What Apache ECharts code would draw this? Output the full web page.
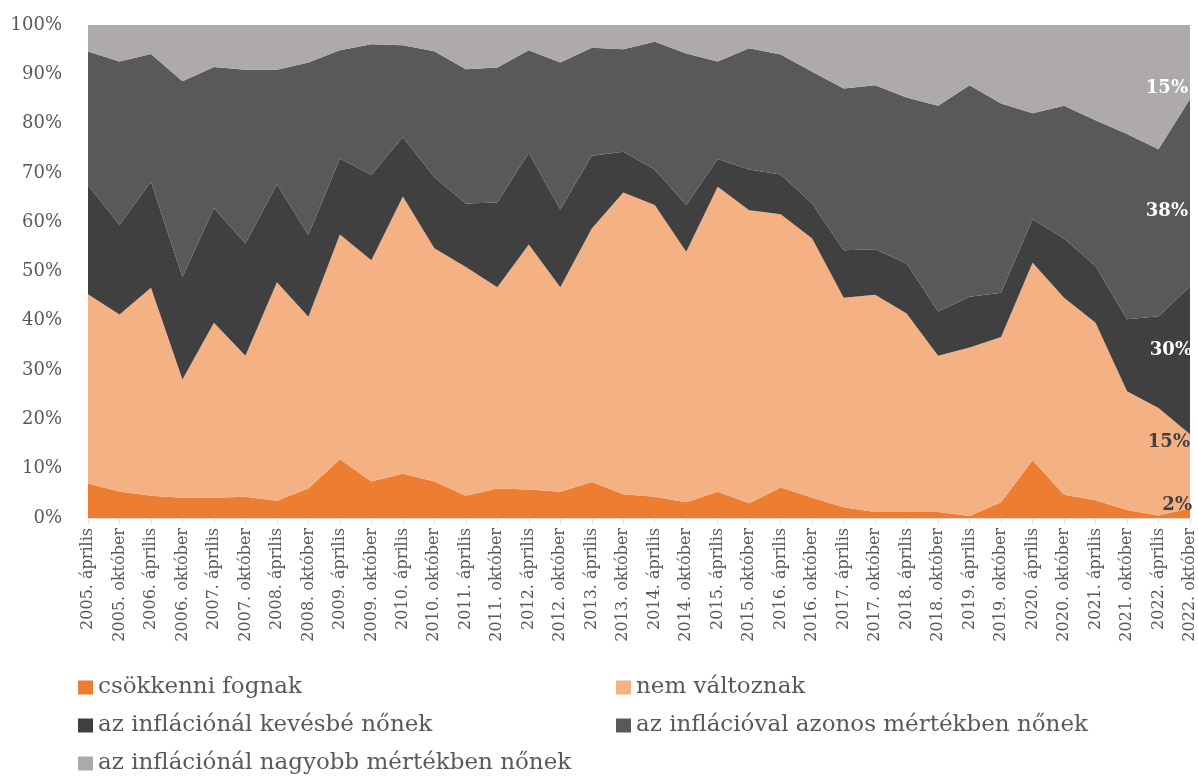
<!DOCTYPE html>
<html>
<head>
<meta charset="utf-8">
<script src="https://cdn.jsdelivr.net/npm/echarts@6/dist/echarts.min.js"></script>
<style>
  html, body { margin: 0; padding: 0; background: #fff; }
  #chart { width: 1198px; height: 778px; }
</style>
</head>
<body>
<div id="chart"></div>
<script>
var categories = [
  '2005. április','2005. október','2006. április','2006. október','2007. április','2007. október',
  '2008. április','2008. október','2009. április','2009. október','2010. április','2010. október',
  '2011. április','2011. október','2012. április','2012. október','2013. április','2013. október',
  '2014. április','2014. október','2015. április','2015. október','2016. április','2016. október',
  '2017. április','2017. október','2018. április','2018. október','2019. április','2019. október',
  '2020. április','2020. október','2021. április','2021. október','2022. április','2022. október'
];
// csökkenni fognak
var csokken = [7.0,5.4,4.5,4.1,4.1,4.3,3.5,6.0,11.9,7.4,9.0,7.4,4.5,6.0,5.8,5.3,7.3,4.8,4.3,3.2,5.3,3.0,6.2,4.1,2.2,1.2,1.2,1.2,0.4,3.2,11.7,4.7,3.6,1.6,0.5,2];
// nem változnak
var nemValt = [38.4,35.9,42.2,24.0,35.5,28.6,44.3,34.8,45.6,44.9,56.2,47.3,46.4,40.8,49.7,41.5,51.4,61.2,59.2,50.8,61.9,59.4,55.4,52.6,42.5,44.1,40.3,31.7,34.2,33.5,40.1,40.0,36.0,24.1,21.8,15];
// az inflációnál kevésbé nőnek
var kevesbe = [22.1,18.2,21.5,20.8,23.3,22.8,19.9,16.6,15.4,17.3,12.1,14.4,12.9,17.2,18.6,15.8,14.8,8.3,7.2,9.5,5.6,8.3,8.1,7.1,9.6,9.2,10.1,9.0,10.3,9.0,8.8,12.0,11.5,14.6,18.6,30];
// az inflációval azonos mértékben nőnek
var azonos = [27.1,33.1,25.9,39.7,28.6,35.2,23.2,35.0,22.0,26.5,18.6,25.6,27.2,27.4,20.8,29.8,21.9,20.8,25.9,30.7,19.8,24.6,24.3,26.7,32.8,33.3,33.7,41.7,42.9,38.4,21.5,26.9,29.6,37.6,33.9,38];
// az inflációnál nagyobb mértékben nőnek
var nagyobb = [5.4,7.4,5.9,11.4,8.5,9.1,9.1,7.6,5.1,3.9,4.1,5.3,9.0,8.6,5.1,7.6,4.6,4.9,3.4,5.8,7.4,4.7,6.0,9.5,12.9,12.2,14.7,16.4,12.2,15.9,17.9,16.4,19.3,22.1,25.2,15];

var names = ['csökkenni fognak','nem változnak','az inflációnál kevésbé nőnek','az inflációval azonos mértékben nőnek','az inflációnál nagyobb mértékben nőnek'];
var colors = ['#ED7D31','#F4B183','#404040','#595959','#AEAAAA'];
var font = '"DejaVu Serif", serif';

// end label: colour and offset from the stacked end point
function withEndLabel(arr, color, off){
  var d = arr.slice();
  var last = d.length - 1;
  d[last] = {
    value: arr[last],
    label: {
      show: true, position: 'left', distance: 2, offset: off,
      formatter: function(p){ return p.value + '%'; },
      color: color, fontFamily: font, fontWeight: 'bold', fontSize: 18
    }
  };
  return d;
}

function areaSeries(i, data){
  return {
    name: names[i], type: 'line', stack: 'total',
    data: data,
    showSymbol: true, symbol: 'circle', symbolSize: 0,
    lineStyle: { width: 0 },
    areaStyle: { color: colors[i], opacity: 1 },
    itemStyle: { color: colors[i] },
    emphasis: { disabled: true },
    clip: false
  };
}

var legendText = { fontFamily: font, fontSize: 23, lineHeight: 23, color: '#595959' };

var myChart = echarts.init(document.getElementById('chart'));
var option = {
  animation: false,
  color: colors,
  grid: { left: 88, right: 8, top: 25, bottom: 260, containLabel: false },
  legend: [
    {
      data: [names[0], names[2], names[4]],
      orient: 'vertical', left: 78, top: 676, padding: 0,
      itemWidth: 15, itemHeight: 14, itemGap: 15,
      icon: 'rect',
      textStyle: legendText
    },
    {
      data: [names[1], names[3]],
      orient: 'vertical', left: 616, top: 676, padding: 0,
      itemWidth: 15, itemHeight: 14, itemGap: 15,
      icon: 'rect',
      textStyle: legendText
    }
  ],
  xAxis: {
    type: 'category',
    boundaryGap: false,
    data: categories,
    axisLine: { lineStyle: { color: '#D9D9D9', width: 1 } },
    axisTick: { show: true, length: 5, lineStyle: { color: '#D9D9D9' } },
    axisLabel: {
      rotate: 90, interval: 0, margin: 10,
      fontFamily: font, fontSize: 16, color: '#595959'
    }
  },
  yAxis: {
    type: 'value',
    min: 0, max: 100, interval: 10,
    axisLine: { show: false },
    axisTick: { show: false },
    splitLine: { show: false },
    axisLabel: {
      formatter: '{value}%', margin: 26,
      fontFamily: font, fontSize: 18, color: '#595959'
    }
  },
  series: [
    areaSeries(0, withEndLabel(csokken, '#404040', [4, -3])),
    areaSeries(1, withEndLabel(nemValt, '#404040', [2, 8])),
    areaSeries(2, withEndLabel(kevesbe, '#ffffff', [4, 64])),
    areaSeries(3, withEndLabel(azonos, '#ffffff', [0, 112])),
    areaSeries(4, withEndLabel(nagyobb, '#ffffff', [0, 63]))
  ]
};
myChart.setOption(option);
</script>
</body>
</html>
